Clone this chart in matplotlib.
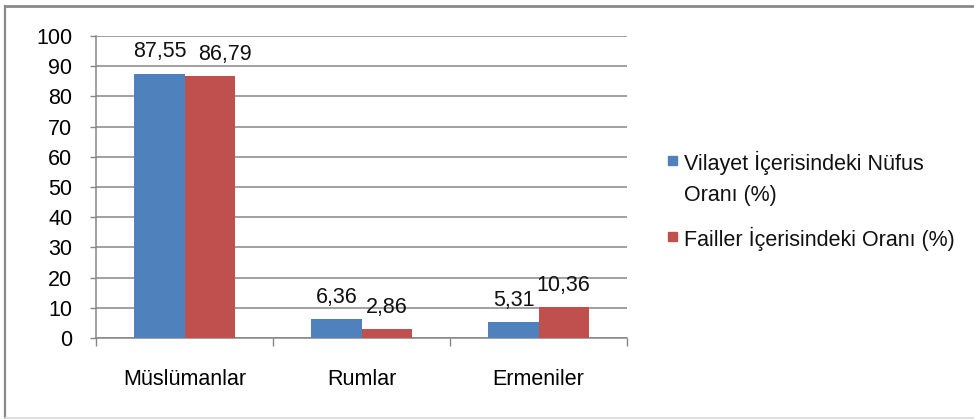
import numpy as np
import matplotlib.pyplot as plt
from matplotlib.patches import Rectangle

plt.rcParams['font.family'] = ['Liberation Sans', 'DejaVu Sans']

# Data
categories = ['Müslümanlar', 'Rumlar', 'Ermeniler']
series_names = ['Vilayet İçerisindeki Nüfus\nOranı (%)', 'Failler İçerisindeki Oranı (%)']
nufus = [87.55, 6.36, 5.31]
failler = [86.79, 2.86, 10.36]
labels_nufus = ['87,55', '6,36', '5,31']
labels_failler = ['86,79', '2,86', '10,36']
colors = ['#4F81BD', '#C0504D']

W, H = 974, 419
FS = 15.5
fig = plt.figure(figsize=(W / 100, H / 100), dpi=100)

# outer chart border
fig.add_artist(plt.Line2D([5 / W, 5 / W], [1 - 6 / H, 1 - 418 / H], color='#8a8a8a', lw=1.6,
                          transform=fig.transFigure))
fig.add_artist(plt.Line2D([5 / W, 1], [1 - 6 / H, 1 - 6 / H], color='#8a8a8a', lw=2.0,
                          transform=fig.transFigure))
fig.add_artist(plt.Line2D([5 / W, 1], [1 - 418 / H, 1 - 418 / H], color='#d9d9d9', lw=1.2,
                          transform=fig.transFigure))

ax = fig.add_axes([96 / W, 1 - 338 / H, (627 - 96) / W, (338 - 36) / H])

x = np.arange(len(categories))
bw = 0.283
b1 = ax.bar(x - bw / 2, nufus, bw, color=colors[0], zorder=3)
b2 = ax.bar(x + bw / 2, failler, bw, color=colors[1], zorder=3)

# data labels (the first red label is nudged right to avoid overlap, as in the original)
for bars, labs, shifts in [(b1, labels_nufus, [0, 0, 0]), (b2, labels_failler, [11, 0, 0])]:
    for rect, lab, dx in zip(bars, labs, shifts):
        ax.annotate(lab, (rect.get_x() + rect.get_width() / 2, rect.get_height()),
                    xytext=(dx, 8), textcoords='offset points', ha='center', va='bottom',
                    fontsize=FS, color='#111111')

ax.set_ylim(0, 100)
ax.set_xlim(-0.5, 2.5)
ax.set_yticks(np.arange(0, 101, 10))
ax.yaxis.grid(True, color='#868686', lw=1.1, zorder=0)
ax.set_axisbelow(True)

ax.set_xticks([-0.5, 0.5, 1.5, 2.5])
ax.set_xticklabels([])
ax.set_xticks(x, minor=True)
ax.set_xticklabels(categories, minor=True)
ax.tick_params(axis='x', which='major', length=6, width=1, color='#868686', direction='out')
ax.tick_params(axis='x', which='minor', length=0, pad=22, labelsize=FS)
ax.tick_params(axis='y', length=4, width=1, color='#868686', pad=13, labelsize=FS)

for s in ['top', 'right']:
    ax.spines[s].set_visible(False)
for s in ['left', 'bottom']:
    ax.spines[s].set_color('#868686')
    ax.spines[s].set_linewidth(1.1)

# legend (handle aligned with first text line)
leg_y = [161, 237]
for i, (name, c) in enumerate(zip(series_names, colors)):
    yc = 1 - leg_y[i] / H
    fig.add_artist(Rectangle((668 / W, yc - 4.5 / H), 9 / W, 9 / H, color=c,
                             transform=fig.transFigure))
    fig.text(684 / W, yc + 10 / H, name, ha='left', va='top', fontsize=FS,
             linespacing=1.6, color='#111111')

fig.savefig('out.png', dpi=100)
